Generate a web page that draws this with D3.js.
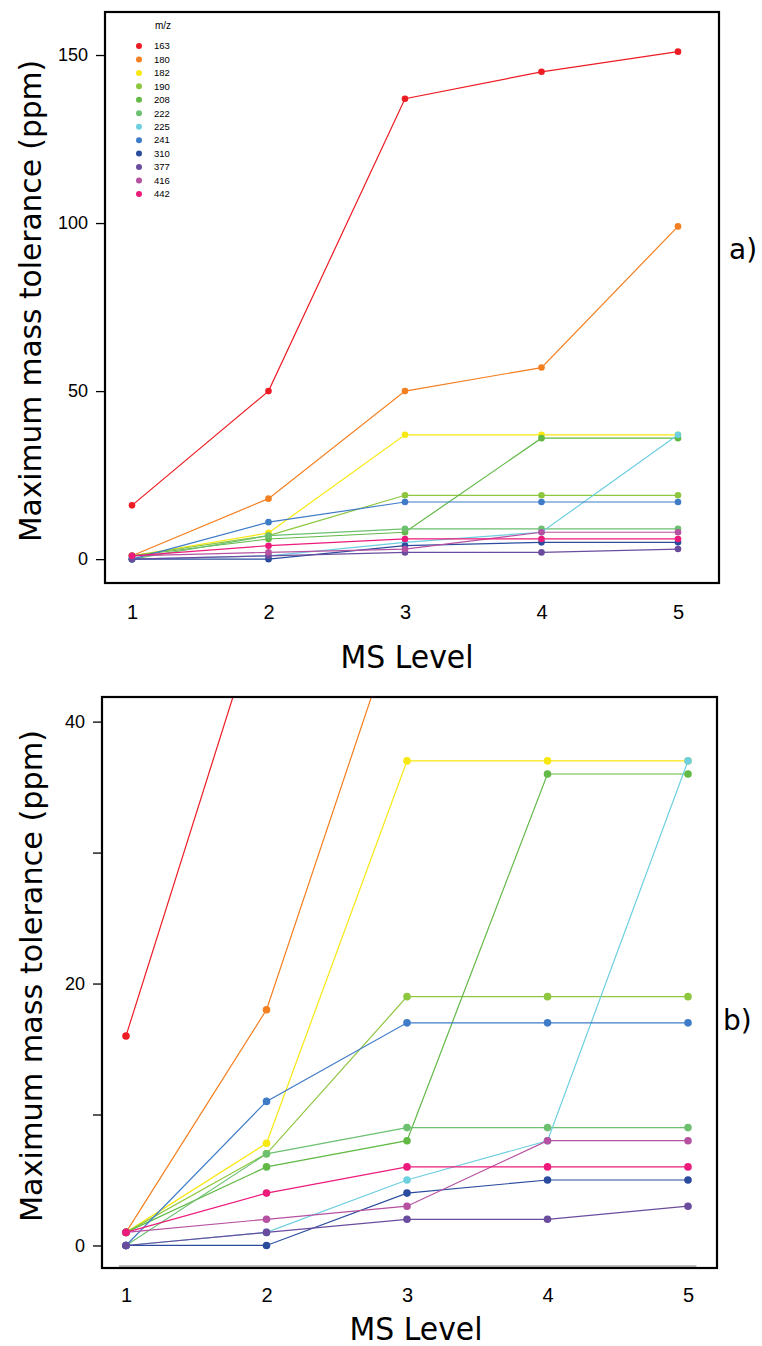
<!DOCTYPE html>
<html>
<head>
<meta charset="utf-8">
<script src="https://cdn.jsdelivr.net/npm/d3@7"></script>
<style>
  body { margin: 0; background: #fff; }
  svg { display: block; }
</style>
</head>
<body>
<script>
// MS levels and m/z series (ppm)
const levels = [1, 2, 3, 4, 5];
const mzLabels = ["163", "180", "182", "190", "208", "222", "225", "241", "310", "377", "416", "442"];
const mzColors = ["#ed1c24", "#f47f20", "#f7e812", "#8dc63f", "#62b946", "#6cc070", "#6dcfe0",
                  "#3f7cc8", "#2b4c9e", "#6a4c9e", "#b651a1", "#ec1b7b"];
const tol163 = [16, 50, 137, 145, 151];
const tol180 = [1, 18, 50, 57, 99];
const tol182 = [1, 7.8, 37, 37, 37];
const tol190 = [1, 7, 19, 19, 19];
const tol208 = [1, 6, 8, 36, 36];
const tol222 = [0, 7, 9, 9, 9];
const tol225 = [0, 1, 5, 8, 37];
const tol241 = [0, 11, 17, 17, 17];
const tol310 = [0, 0, 4, 5, 5];
const tol377 = [0, 1, 2, 2, 3];
const tol416 = [1, 2, 3, 8, 8];
const tol442 = [1, 4, 6, 6, 6];
const series = [tol163, tol180, tol182, tol190, tol208, tol222, tol225, tol241, tol310, tol377, tol416, tol442];

const ticksA = [0, 50, 100, 150];
const ticksB = [0, 10, 20, 30, 40];
const labelsB = [0, 20, 40];

const svg = d3.select("body").append("svg").attr("width", 762).attr("height", 1346);

const drawPanel = (opt) => {
  const x = d3.scaleLinear().domain(opt.xdom).range([opt.left, opt.right]);
  const y = d3.scaleLinear().domain(opt.ydom).range([opt.bottom, opt.top]);
  const g = svg.append("g");

  g.append("clipPath").attr("id", opt.id)
    .append("rect").attr("x", opt.left).attr("y", opt.top)
    .attr("width", opt.right - opt.left).attr("height", opt.bottom - opt.top);

  const plot = g.append("g").attr("clip-path", "url(#" + opt.id + ")");

  if (opt.grayBase) {
    plot.append("line")
      .attr("x1", x(0.95)).attr("x2", x(5.06))
      .attr("y1", opt.bottom - 2).attr("y2", opt.bottom - 2)
      .attr("stroke", "#aaa").attr("stroke-width", 1.5);
  }

  const line = d3.line().x((d, i) => x(levels[i])).y(d => y(d));
  series.forEach((s, k) => {
    plot.append("path").datum(s)
      .attr("d", line)
      .attr("fill", "none")
      .attr("stroke", mzColors[k])
      .attr("stroke-width", 1.2);
    plot.selectAll(null).data(s).enter().append("circle")
      .attr("cx", (d, i) => x(levels[i]))
      .attr("cy", d => y(d))
      .attr("r", opt.r)
      .attr("fill", mzColors[k]);
  });

  // frame
  g.append("rect").attr("x", opt.left).attr("y", opt.top)
    .attr("width", opt.right - opt.left).attr("height", opt.bottom - opt.top)
    .attr("fill", "none").attr("stroke", "#000").attr("stroke-width", 2.2);

  // y axis ticks
  const yAxis = d3.axisLeft(y).tickValues(opt.yticks).tickSize(8).tickPadding(8)
    .tickFormat(d => opt.ylabels.includes(d) ? d : "");
  const ya = g.append("g").attr("transform", "translate(" + (opt.left - 1) + ",0)").call(yAxis);
  ya.select(".domain").remove();
  ya.selectAll("line").attr("stroke", "#000").attr("stroke-width", 1.3);
  ya.selectAll("text").attr("font-family", "Liberation Sans, Arial, sans-serif")
    .attr("font-size", 18).attr("fill", "#000");

  // x axis labels
  const xAxis = d3.axisBottom(x).tickValues(levels).tickSize(0).tickPadding(opt.xpad)
    .tickFormat(d3.format("d"));
  const xa = g.append("g").attr("transform", "translate(0," + opt.bottom + ")").call(xAxis);
  xa.select(".domain").remove();
  xa.selectAll("text").attr("font-family", "Liberation Sans, Arial, sans-serif")
    .attr("font-size", 20).attr("fill", "#000");

  // titles
  g.append("text")
    .attr("transform", "translate(" + opt.ytx + "," + opt.yty + ") rotate(-90)")
    .attr("text-anchor", "middle")
    .attr("font-family", "DejaVu Sans, Verdana, sans-serif")
    .attr("font-size", opt.yfs)
    .attr("textLength", opt.ylen).attr("lengthAdjust", "spacingAndGlyphs")
    .text("Maximum mass tolerance (ppm)");
  g.append("text")
    .attr("x", opt.xtx).attr("y", opt.xty)
    .attr("text-anchor", "middle")
    .attr("font-family", "DejaVu Sans Condensed, DejaVu Sans, sans-serif")
    .attr("font-size", 32)
    .attr("textLength", 133).attr("lengthAdjust", "spacingAndGlyphs")
    .text("MS Level");
  g.append("text")
    .attr("x", opt.tagx).attr("y", opt.tagy)
    .attr("font-family", "DejaVu Sans, Verdana, sans-serif")
    .attr("font-size", 28)
    .text(opt.tag);

  return { x, y, g };
};

const a = drawPanel({
  id: "clipA", left: 105, right: 719, top: 12, bottom: 583,
  xdom: [1 - 27 / 136.5, 5 + 41 / 136.5], ydom: [-7.1, 162.8],
  yticks: ticksA, ylabels: ticksA, r: 3.3, xpad: 22,
  ytx: 41, yty: 301, yfs: 30.5, ylen: 482,
  xtx: 407, xty: 668, tag: "a)", tagx: 729, tagy: 259
});

const b = drawPanel({
  id: "clipB", left: 102, right: 717, top: 697, bottom: 1268,
  xdom: [1 - 24 / 140.5, 5 + 29 / 140.5], ydom: [-1.72, 41.88],
  yticks: ticksB, ylabels: labelsB, r: 3.8, xpad: 20, grayBase: true,
  ytx: 42, yty: 976, yfs: 30.5, ylen: 492,
  xtx: 416, xty: 1340, tag: "b)", tagx: 723, tagy: 1030
});

// legend
const leg = a.g.append("g");
leg.append("text").attr("x", 163).attr("y", 29).attr("text-anchor", "middle")
  .attr("font-family", "Liberation Sans, Arial, sans-serif").attr("font-size", 10).text("m/z");
mzLabels.forEach((m, k) => {
  const yy = 46 + k * 13.45;
  leg.append("circle").attr("cx", 139).attr("cy", yy).attr("r", 3).attr("fill", mzColors[k]);
  leg.append("text").attr("x", 154).attr("y", yy + 3.3)
    .attr("font-family", "Liberation Sans, Arial, sans-serif").attr("font-size", 9.5).text(m);
});
</script>
</body>
</html>
